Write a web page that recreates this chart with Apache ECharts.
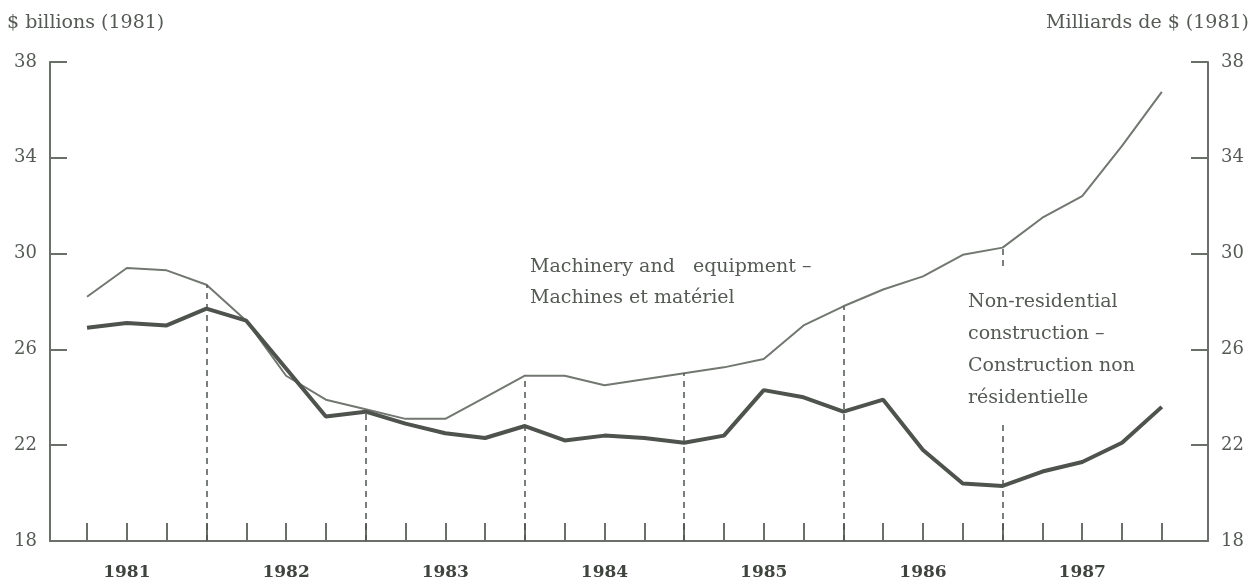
<!DOCTYPE html>
<html>
<head>
<meta charset="utf-8">
<script src="https://cdn.jsdelivr.net/npm/echarts@6/dist/echarts.min.js"></script>
<style>
  html, body { margin: 0; padding: 0; background: #fff; }
  #chart { width: 1259px; height: 583px; }
</style>
</head>
<body>
<div id="chart"></div>
<script>
// quarters 1981Q1 .. 1987Q4, indexed 0..27
const years = ['1981', '1982', '1983', '1984', '1985', '1986', '1987'];
const quarters = [0, 1, 2, 3, 4, 5, 6, 7, 8, 9, 10, 11, 12, 13, 14, 15, 16, 17, 18, 19, 20, 21, 22, 23, 24, 25, 26, 27];

// Machinery and equipment (thin line)
const machinery = [28.2, 29.4, 29.3, 28.7, 27.2, 24.9, 23.9, 23.5, 23.1, 23.1, 24.0, 24.9, 24.9, 24.5,
  24.75, 25.0, 25.25, 25.6, 27.0, 27.8, 28.5, 29.05, 29.95, 30.25, 31.5, 32.4, 34.5, 36.75];

// Non-residential construction (thick line)
const construction = [26.9, 27.1, 27.0, 27.7, 27.2, 25.2, 23.2, 23.4, 22.9, 22.5, 22.3, 22.8, 22.2, 22.4,
  22.3, 22.1, 22.4, 24.3, 24.0, 23.4, 23.9, 21.8, 20.4, 20.3, 20.9, 21.3, 22.1, 23.6];

// year dividers (4th quarter of each year)
const dividers = [3, 7, 11, 15, 19, 23];
const yTicks = [18, 22, 26, 30, 34, 38];

const FONT = '"DejaVu Serif", "Liberation Serif", serif';
const AXIS = '#6a6f69';
const TEXT = '#555a55';

const chart = echarts.init(document.getElementById('chart'));

const yAxisBase = (position) => ({
  type: 'value',
  position: position,
  min: yTicks[0],
  max: yTicks[yTicks.length - 1],
  interval: 4,
  axisLine: { show: true, onZero: false, lineStyle: { color: AXIS, width: 2 } },
  axisTick: { show: true, inside: true, length: 17, lineStyle: { color: AXIS, width: 2 } },
  axisLabel: { color: TEXT, fontFamily: FONT, fontSize: 18, margin: 13 },
  splitLine: { show: false }
});

const option = {
  animation: false,
  backgroundColor: '#fff',
  grid: { left: 50, right: 51, top: 62, bottom: 42 },
  xAxis: {
    type: 'value',
    min: -0.93,
    max: 28.16,
    axisLine: { show: true, onZero: false, lineStyle: { color: AXIS, width: 2 } },
    axisTick: {
      show: true, inside: true, length: 18,
      customValues: quarters,
      lineStyle: { color: AXIS, width: 2 }
    },
    axisLabel: {
      customValues: years.map((y, k) => k * 4 + 1),
      formatter: (v) => years[(v - 1) / 4],
      color: '#3f443f', fontFamily: FONT, fontSize: 17, fontWeight: 'bold', margin: 23
    },
    splitLine: { show: false }
  },
  yAxis: [yAxisBase('left'), yAxisBase('right')],
  graphic: [
    {
      type: 'text', left: 7, top: 14, z: 100,
      style: { text: '$ billions (1981)', font: '19px ' + FONT, fill: TEXT }
    },
    {
      type: 'text', right: 10, top: 14, z: 100,
      style: { text: 'Milliards de $ (1981)', font: '19px ' + FONT, fill: TEXT }
    },
    {
      type: 'text', left: 530, top: 252, z: 100,
      style: {
        text: 'Machinery and   equipment –\nMachines et matériel',
        font: '19px ' + FONT, fill: TEXT, lineHeight: 31
      }
    },
    {
      type: 'text', left: 964, top: 270, z: 100,
      style: {
        text: 'Non-residential\nconstruction –\nConstruction non\nrésidentielle',
        font: '19px ' + FONT, fill: TEXT, lineHeight: 32,
        backgroundColor: '#fff', padding: [16, 4, 6, 4]
      }
    }
  ],
  series: [
    {
      name: 'Machinery and equipment',
      type: 'line',
      data: quarters.map((q, i) => [q, machinery[i]]),
      showSymbol: false,
      lineStyle: { color: '#727771', width: 2 },
      z: 3,
      markLine: {
        silent: true,
        symbol: ['none', 'none'],
        label: { show: false },
        lineStyle: { color: '#4f544f', width: 1.5, type: [6, 5] },
        data: dividers.map((i) => [
          { coord: [i, yTicks[0]] },
          { coord: [i, Math.max(machinery[i], construction[i])] }
        ])
      }
    },
    {
      name: 'Non-residential construction',
      type: 'line',
      data: quarters.map((q, i) => [q, construction[i]]),
      showSymbol: false,
      lineStyle: { color: '#4e534d', width: 4 },
      z: 4
    }
  ]
};

chart.setOption(option);
</script>
</body>
</html>
